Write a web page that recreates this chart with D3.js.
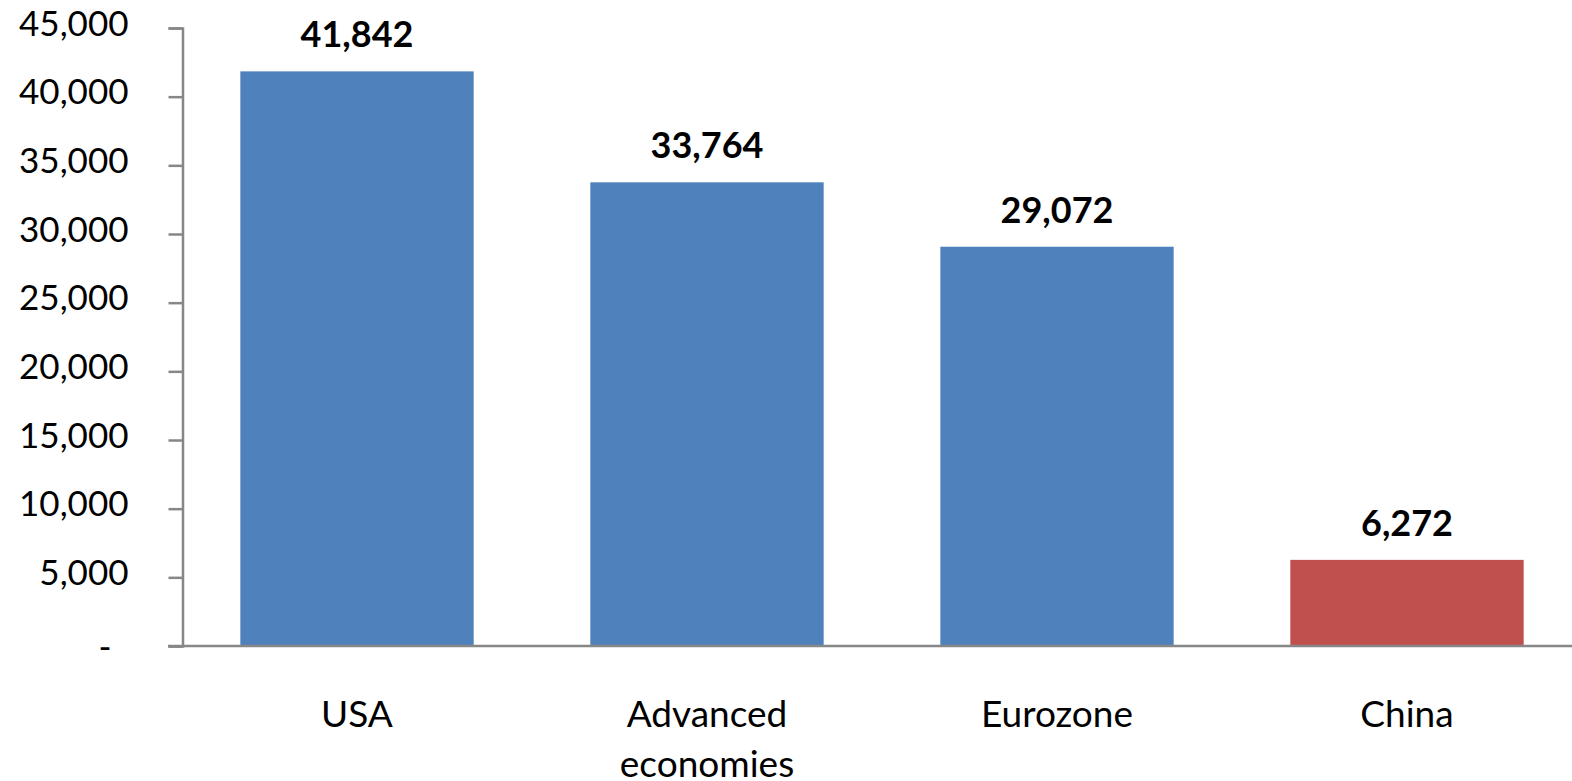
<!DOCTYPE html>
<html>
<head>
<meta charset="utf-8">
<script src="https://cdn.jsdelivr.net/npm/d3@7"></script>
<style>
  body { margin: 0; background: #fff; }
  #vis { width: 1572px; height: 781px; }
  text { font-family: Lato, "Open Sans", sans-serif; }
</style>
</head>
<body>
<div id="vis"></div>
<script>
var categories = ["USA", "Advanced economies", "Eurozone", "China"];
var values = [41842, 33764, 29072, 6272];
var barColors = ["#4F81BD", "#4F81BD", "#4F81BD", "#C0504D"];
var yTicks = [0, 5000, 10000, 15000, 20000, 25000, 30000, 35000, 40000, 45000];

var width = 1572, height = 781;

var svg = d3.select("#vis")
    .append("svg")
    .attr("width", width)
    .attr("height", height);

var data = categories.map(function(c, i) {
    return { name: c, value: values[i], color: barColors[i] };
});

var xscale = d3.scaleBand()
    .domain(categories)
    .range([182, 1582])
    .paddingInner(1 / 3)
    .paddingOuter(1 / 6);

var yscale = d3.scaleLinear()
    .domain([0, 45000])
    .range([646, 28]);

var fmt = d3.format(",");

// y axis
var yaxis = d3.axisLeft(yscale)
    .tickValues(yTicks)
    .tickSize(14)
    .tickPadding(40)
    .tickFormat(function(d) { return d === 0 ? "-" : fmt(d); });

var gy = svg.append("g")
    .attr("class", "y axis")
    .attr("transform", "translate(182.5,0)")
    .call(yaxis);

gy.select(".domain").attr("stroke", "#878787").attr("stroke-width", 2.5);
gy.selectAll(".tick line").attr("stroke", "#878787").attr("stroke-width", 2.5);
gy.selectAll(".tick text")
    .attr("fill", "#000")
    .style("font-size", "35px")
    .attr("dy", "0.2em");
gy.selectAll(".tick")
    .filter(function(d) { return d === 0; })
    .select("text")
    .attr("dx", -17)
    .attr("dy", "0.35em");

// bars
svg.selectAll(".bar")
    .data(data)
    .enter()
    .append("rect")
    .attr("class", "bar")
    .attr("x", function(d) { return xscale(d.name); })
    .attr("width", xscale.bandwidth())
    .attr("y", function(d) { return yscale(d.value); })
    .attr("height", function(d) { return yscale(0) - yscale(d.value); })
    .attr("fill", function(d) { return d.color; });

// baseline
svg.append("line")
    .attr("x1", 168)
    .attr("x2", width)
    .attr("y1", yscale(0))
    .attr("y2", yscale(0))
    .attr("stroke", "#878787")
    .attr("stroke-width", 2.5);

// value labels
svg.selectAll(".val")
    .data(data)
    .enter()
    .append("text")
    .attr("class", "val")
    .attr("x", function(d) { return xscale(d.name) + xscale.bandwidth() / 2; })
    .attr("y", function(d) { return yscale(d.value) - 24; })
    .attr("text-anchor", "middle")
    .style("font-size", "36px")
    .style("font-weight", "bold")
    .text(function(d) { return fmt(d.value); });

// category labels
var cat = svg.selectAll(".cat")
    .data(data)
    .enter()
    .append("text")
    .attr("class", "cat")
    .attr("x", function(d) { return xscale(d.name) + xscale.bandwidth() / 2; })
    .attr("y", 727)
    .attr("text-anchor", "middle")
    .style("font-size", "37px");

cat.each(function(d) {
    var words = d.name === "Advanced economies" ? ["Advanced", "economies"] : [d.name];
    var t = d3.select(this);
    words.forEach(function(w, i) {
        t.append("tspan")
            .attr("x", xscale(d.name) + xscale.bandwidth() / 2)
            .attr("dy", i === 0 ? 0 : 50)
            .text(w);
    });
});
</script>
</body>
</html>
